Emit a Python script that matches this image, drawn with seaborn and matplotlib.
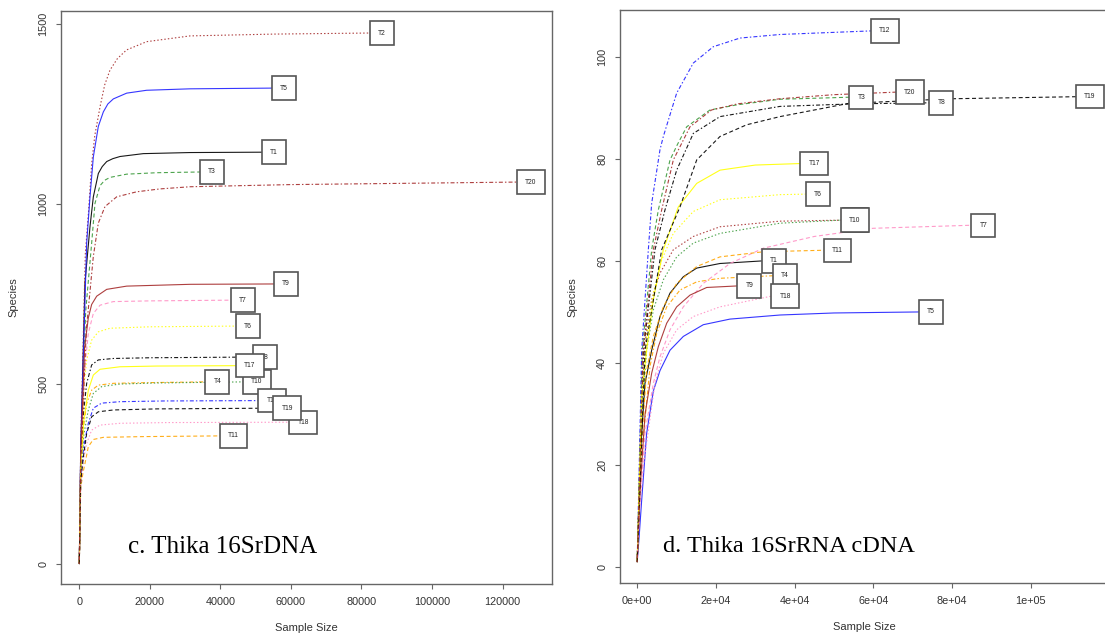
import matplotlib
matplotlib.use("Agg")
import matplotlib.pyplot as plt
import pandas as pd
import seaborn as sns

# ---------------- data ----------------
samples = ["T1", "T2", "T3", "T4", "T5", "T6", "T7", "T8", "T9", "T10",
           "T11", "T12", "T17", "T18", "T19", "T20"]

# Panel c : Thika 16SrDNA  (sample size -> species)
left_x = {
    "T1": [0, 400, 1600, 3030, 3980, 5400, 6500, 7770, 9500, 11540, 18150, 31400, 51800],
    "T2": [0, 400, 1700, 2600, 3500, 4400, 5900, 7200, 8700, 10800, 13400, 19100, 31400, 55000, 82400],
    "T3": [0, 400, 1800, 3500, 4450, 5870, 7200, 8700, 13440, 22000, 34200],
    "T4": [0, 400, 1200, 2090, 3500, 5400, 9640, 20000, 35700],
    "T5": [0, 400, 2090, 3030, 3980, 5400, 6820, 8100, 9650, 13430, 19100, 31400, 54600],
    "T6": [0, 400, 1200, 2090, 3500, 5400, 8700, 20000, 44400],
    "T7": [0, 400, 1500, 2560, 3970, 5870, 9640, 20000, 43000],
    "T8": [0, 400, 1200, 2090, 3500, 5400, 9640, 20000, 49200],
    "T9": [0, 400, 1500, 2560, 3500, 4930, 7770, 13440, 31400, 55200],
    "T10": [0, 400, 1300, 2560, 3970, 6350, 11540, 22000, 46400],
    "T11": [0, 400, 1000, 1620, 2560, 3970, 6820, 18000, 39900],
    "T12": [0, 400, 1300, 2560, 3970, 6350, 11540, 24000, 50700],
    "T17": [0, 400, 1300, 2560, 3970, 5870, 11540, 22000, 44400],
    "T18": [0, 400, 1200, 2090, 3500, 5870, 11540, 25000, 59500],
    "T19": [0, 400, 1200, 2090, 3500, 5400, 9640, 22000, 55000],
    "T20": [0, 400, 2000, 3970, 5390, 7290, 10600, 16270, 22880, 31400, 60000, 124100],
}
left_y = {
    "T1": [0, 310, 780, 936, 1019, 1084, 1103, 1117, 1125, 1131, 1139, 1142, 1143],
    "T2": [0, 330, 860, 975, 1110, 1190, 1270, 1330, 1371, 1403, 1427, 1450, 1466, 1471, 1474],
    "T3": [0, 300, 700, 890, 1001, 1050, 1065, 1073, 1082, 1086, 1088],
    "T4": [0, 250, 380, 445, 482, 496, 501, 503, 505],
    "T5": [0, 320, 890, 1019, 1130, 1215, 1255, 1277, 1291, 1307, 1315, 1319, 1321],
    "T6": [0, 270, 480, 566, 621, 644, 654, 658, 660],
    "T7": [0, 280, 540, 640, 695, 718, 728, 730, 732],
    "T8": [0, 260, 420, 501, 552, 566, 570, 572, 574],
    "T9": [0, 300, 600, 683, 720, 743, 762, 771, 776, 777],
    "T10": [0, 250, 360, 427, 473, 492, 499, 502, 505],
    "T11": [0, 210, 250, 279, 325, 345, 351, 353, 355],
    "T12": [0, 240, 330, 390, 432, 446, 450, 452, 453],
    "T17": [0, 260, 400, 482, 524, 540, 547, 549, 550],
    "T18": [0, 220, 290, 334, 371, 385, 390, 392, 393],
    "T19": [0, 230, 300, 362, 408, 422, 427, 430, 432],
    "T20": [0, 280, 650, 853, 946, 992, 1019, 1033, 1041, 1047, 1053, 1060],
}

# Panel d : Thika 16SrRNA cDNA
right_x = {
    "T1": [1, 800, 1980, 3680, 5790, 8340, 11720, 15120, 21040, 31600],
    "T2": [1, 900, 1980, 3680, 5790, 9180, 14260, 21040, 36290, 52400],
    "T3": [1, 1300, 3680, 5370, 8340, 10200, 12580, 18500, 25290, 36290, 53900],
    "T4": [1, 900, 3250, 4950, 7500, 10880, 15120, 21040, 34500],
    "T5": [1, 500, 1140, 2400, 4100, 5790, 8340, 11720, 16800, 23580, 36290, 50000, 71600],
    "T6": [1, 1000, 2400, 4100, 6220, 9180, 14260, 21040, 36290, 42800],
    "T7": [1, 710, 1980, 4100, 5790, 8340, 11720, 16800, 23580, 32050, 45000, 59900, 84900],
    "T8": [1, 1600, 4520, 7060, 10030, 14260, 21040, 36290, 55000, 74200],
    "T9": [1, 800, 2000, 3680, 5370, 7500, 10030, 13420, 17660, 25400],
    "T10": [1, 1000, 2400, 4100, 6640, 10030, 14260, 21040, 36290, 51800],
    "T11": [1, 900, 2400, 4100, 6640, 10030, 15120, 21040, 32050, 47500],
    "T12": [1, 1140, 2830, 3680, 5790, 6640, 10030, 14260, 19340, 26120, 36290, 59400],
    "T17": [1, 1140, 2400, 4100, 6640, 10450, 15120, 21040, 30000, 41500],
    "T18": [1, 500, 1550, 4520, 6640, 10030, 14260, 21040, 34100],
    "T19": [1, 2000, 6220, 10880, 15120, 21040, 27830, 36290, 53800, 80000, 111500],
    "T20": [1, 1500, 4100, 6220, 9180, 13420, 18900, 25500, 36290, 50000, 65800],
}
right_y = {
    "T1": [1, 22, 36.0, 42.5, 49.1, 53.7, 56.9, 58.6, 59.5, 60.0],
    "T2": [1, 28, 43.9, 52.4, 57.6, 62.2, 64.8, 66.7, 67.8, 68.0],
    "T3": [1, 42.5, 62.2, 70.0, 79.8, 82.8, 86.3, 89.6, 90.6, 91.7, 92.1],
    "T4": [1, 20, 39.3, 45.8, 51.0, 54.3, 55.9, 56.6, 57.1],
    "T5": [1, 6, 13.1, 26.2, 34.5, 38.5, 42.5, 45.2, 47.5, 48.6, 49.4, 49.8, 50.0],
    "T6": [1, 30, 45.2, 53.7, 60.2, 65.4, 69.7, 72.0, 73.0, 73.1],
    "T7": [1, 13.1, 26.2, 36.0, 41.2, 46.5, 51.0, 55.6, 59.5, 62.5, 64.8, 66.4, 67.0],
    "T8": [1, 42.5, 62.2, 70.0, 77.8, 85.0, 88.3, 90.3, 90.8, 91.0],
    "T9": [1, 16, 30, 38.0, 43.2, 47.8, 51.0, 53.3, 54.8, 55.1],
    "T10": [1, 28, 42.5, 50.4, 56.3, 60.8, 63.5, 65.4, 67.4, 68.0],
    "T11": [1, 22, 38.6, 45.2, 51.0, 55.6, 58.9, 60.8, 61.8, 62.1],
    "T12": [1, 42.5, 62.2, 71.3, 81.8, 84.4, 92.9, 98.8, 102.0, 103.7, 104.4, 105.1],
    "T17": [1, 33.4, 42.5, 52.4, 62.2, 70.6, 75.2, 77.8, 78.8, 79.1],
    "T18": [1, 10, 19.7, 36.0, 41.9, 46.5, 49.1, 51.0, 53.1],
    "T19": [1, 42.5, 62.2, 70.6, 79.8, 84.4, 86.7, 88.3, 90.9, 91.8, 92.2],
    "T20": [1, 42.5, 62.2, 70.0, 79.8, 86.3, 89.6, 90.8, 91.8, 92.6, 93.1],
}

left_xticks = [0, 20000, 40000, 60000, 80000, 100000, 120000]
left_xticklabels = ["0", "20000", "40000", "60000", "80000", "100000", "120000"]
left_yticks = [0, 500, 1000, 1500]
right_xticks = [0, 20000, 40000, 60000, 80000, 100000]
right_xticklabels = ["0e+00", "2e+04", "4e+04", "6e+04", "8e+04", "1e+05"]
right_yticks = [0, 20, 40, 60, 80, 100]
panel_titles = ["c. Thika 16SrDNA", "d. Thika 16SrRNA cDNA"]

# ---------------- style ----------------
sns.set_theme(style="white")
plt.rcParams["font.family"] = ["Liberation Sans", "DejaVu Sans"]

color_cycle = ["#000000", "#a52a2a", "#3a9a3a", "#ffa500", "#2020ff", "#ffff00", "#ff8fc4"]
dash_cycle = ["", (1.3, 1.9), (3.6, 2.4), (1.3, 1.9, 3.6, 1.9)]
palette = {s: color_cycle[i % 7] for i, s in enumerate(samples)}
dashes = {s: dash_cycle[i % 4] for i, s in enumerate(samples)}

W, H = 1105, 639
fig = plt.figure(figsize=(W / 100, H / 100), dpi=100)
fig.patch.set_facecolor("white")

def px_axes(l, t, r, b):
    return fig.add_axes([l / W, 1 - b / H, (r - l) / W, (b - t) / H])

axL = px_axes(61, 10.7, 552, 584)
axR = px_axes(619.8, 10, 1108, 583.3)

def draw(ax, xs, ys):
    rows = []
    for s in samples:
        for xv, yv in zip(xs[s], ys[s]):
            rows.append((s, xv, yv))
    df = pd.DataFrame(rows, columns=["sample", "size", "species"])
    sns.lineplot(data=df, x="size", y="species", hue="sample", style="sample",
                 hue_order=samples, style_order=samples, palette=palette,
                 dashes=dashes, estimator=None, sort=False, legend=False,
                 linewidth=0.8, alpha=0.9, ax=ax)
    for s in samples:
        ax.annotate(s, xy=(xs[s][-1], ys[s][-1]), xytext=(5.9, 0),
                    textcoords="offset points", ha="left", va="center",
                    fontsize=4.8, color="#222222", zorder=5,
                    bbox=dict(boxstyle="square,pad=1.23", fc="white",
                              ec="#555555", lw=1.2))

draw(axL, left_x, left_y)
draw(axR, right_x, right_y)

axL.set_xlim(-5189, 134023)
axL.set_ylim(-56.4, 1536)
axR.set_xlim(-4422, 119650)
axR.set_ylim(-3.2, 109.2)

axL.set_xticks(left_xticks)
axL.set_xticklabels(left_xticklabels)
axL.set_yticks(left_yticks)
axR.set_xticks(right_xticks)
axR.set_xticklabels(right_xticklabels)
axR.set_yticks(right_yticks)

for ax, title, tx, fs in [(axL, panel_titles[0], 0.1365, 18), (axR, panel_titles[1], 0.0875, 17.5)]:
    ax.set_xlabel("Sample Size", fontsize=8, color="#333333", va="center")
    ax.set_ylabel("Species", fontsize=8, color="#333333", va="center")
    ax.xaxis.set_label_coords(0.5, -0.0767)
    ax.yaxis.set_label_coords(-0.097, 0.5)
    ax.tick_params(axis="both", direction="out", length=3.6, width=0.8,
                   color="#666666", labelsize=7.8, labelcolor="#333333",
                   pad=5.5, bottom=True, left=True)
    for lab in ax.get_yticklabels():
        lab.set_rotation(90)
        lab.set_va("center")
    for sp in ax.spines.values():
        sp.set_visible(True)
        sp.set_color("#666666")
        sp.set_linewidth(1.0)
    ax.text(tx, 0.054, title, transform=ax.transAxes, ha="left", va="baseline",
            fontsize=fs, family=["Liberation Serif", "DejaVu Serif"], color="black")
    ax.set_facecolor("white")

fig.savefig("out.png", dpi=100, facecolor="white")
